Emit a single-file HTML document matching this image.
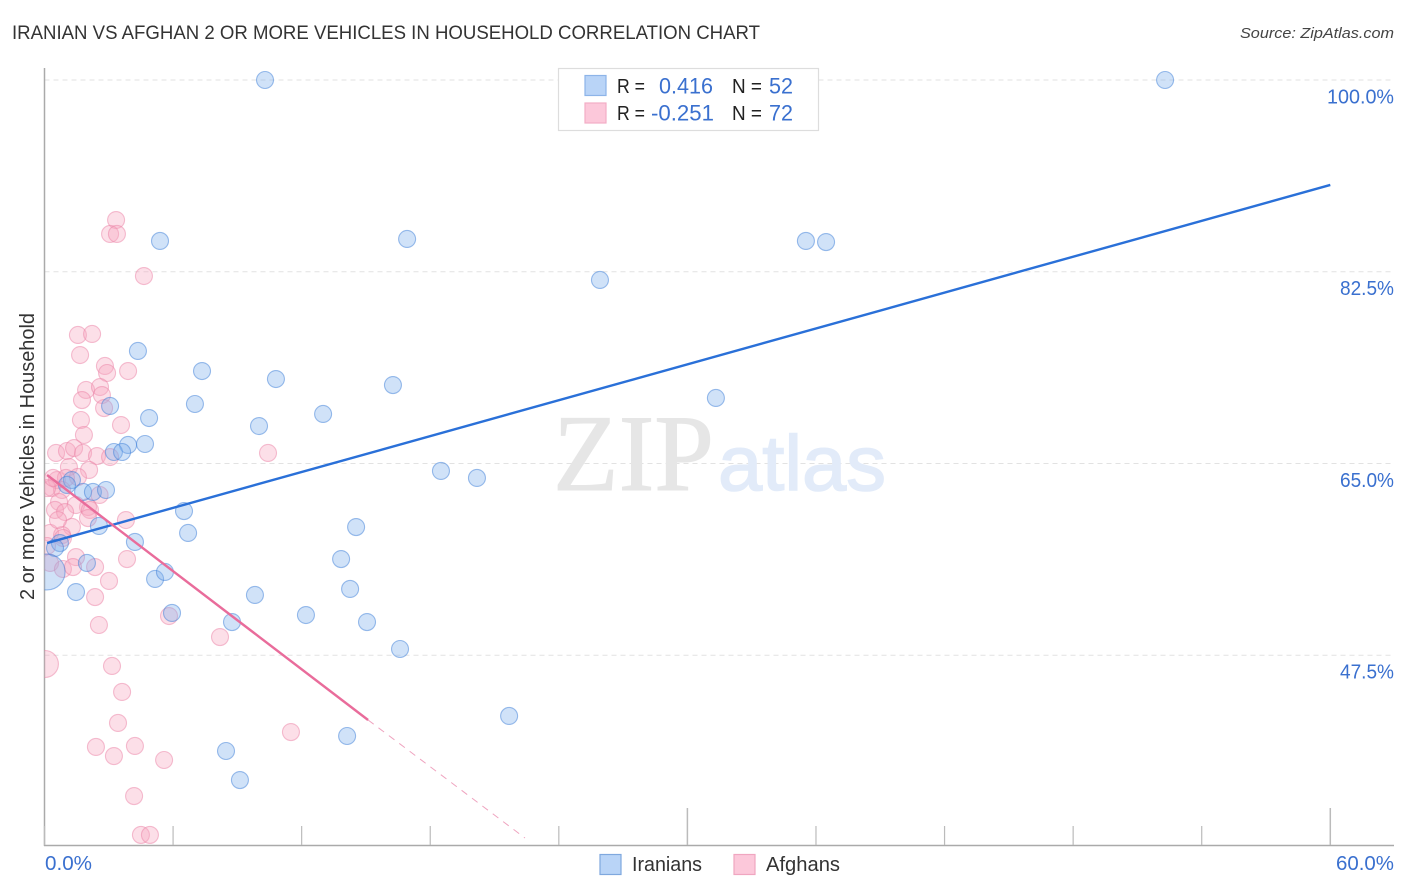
<!DOCTYPE html>
<html>
<head>
<meta charset="utf-8">
<title>Iranian vs Afghan 2 or more Vehicles in Household Correlation Chart</title>
<style>
html,body{margin:0;padding:0;background:#fff;width:1406px;height:892px;overflow:hidden}
svg{display:block;font-family:"Liberation Sans",sans-serif}
</style>
</head>
<body>
<svg id="chart" width="1406" height="892" viewBox="0 0 1406 892" xmlns="http://www.w3.org/2000/svg">
  <defs><clipPath id="plot-clip"><rect x="44.5" y="60" width="1350" height="785"/></clipPath></defs>
  <rect x="0" y="0" width="1406" height="892" fill="#fff"/>
  <text x="12" y="39" font-size="19" fill="#333" textLength="748" lengthAdjust="spacingAndGlyphs">IRANIAN VS AFGHAN 2 OR MORE VEHICLES IN HOUSEHOLD CORRELATION CHART</text>
  <text x="1394" y="38" font-size="15" font-style="italic" fill="#444" text-anchor="end" textLength="154" lengthAdjust="spacingAndGlyphs">Source: ZipAtlas.com</text>
  <g id="grid"></g>
  <g>
    <text x="553" y="490" font-family="'Liberation Serif',serif" font-size="109" fill="#e6e6e6" stroke="#e6e6e6" stroke-width="1" textLength="161" lengthAdjust="spacingAndGlyphs">ZIP</text>
    <text x="718" y="490" font-family="'Liberation Sans',sans-serif" font-size="78" fill="#e2ebf9" stroke="#e2ebf9" stroke-width="1.5" textLength="168" lengthAdjust="spacingAndGlyphs">atlas</text>
  </g>
  <g id="axes"></g>
  <g id="marks" clip-path="url(#plot-clip)"></g>
  <g id="trends"></g>
  <g id="labels"></g>
  <text transform="translate(34,456.5) rotate(-90)" font-size="20" fill="#333" text-anchor="middle" textLength="287" lengthAdjust="spacingAndGlyphs">2 or more Vehicles in Household</text>

  <g>
    <rect x="558.5" y="68.5" width="260" height="62" fill="#fff" stroke="#ddd" stroke-width="1.2"/>
    <rect x="585" y="75.5" width="21" height="20" fill="#b9d4f7" stroke="#8db4e8" stroke-width="1.2"/>
    <rect x="585" y="103" width="21" height="20" fill="#fcc8da" stroke="#f3adc6" stroke-width="1.2"/>
    <g font-size="20" fill="#222">
      <text x="617" y="93" textLength="28" lengthAdjust="spacingAndGlyphs">R =</text>
      <text x="617" y="120" textLength="28" lengthAdjust="spacingAndGlyphs">R =</text>
      <text x="732" y="93" textLength="30" lengthAdjust="spacingAndGlyphs">N =</text>
      <text x="732" y="120" textLength="30" lengthAdjust="spacingAndGlyphs">N =</text>
    </g>
    <g font-size="22" fill="#3a70cf">
      <text x="659" y="93.5" textLength="54" lengthAdjust="spacingAndGlyphs">0.416</text>
      <text x="651" y="120.5" textLength="63" lengthAdjust="spacingAndGlyphs">-0.251</text>
      <text x="769" y="93.5" textLength="24" lengthAdjust="spacingAndGlyphs">52</text>
      <text x="769" y="120.5" textLength="24" lengthAdjust="spacingAndGlyphs">72</text>
    </g>
  </g>

  <g>
    <g>
      <rect x="600" y="854.5" width="21" height="20" fill="#b9d4f7" stroke="#7fa8de" stroke-width="1.2"/>
      <text x="632" y="871" font-size="20" fill="#333" textLength="70" lengthAdjust="spacingAndGlyphs">Iranians</text>
    </g>
    <g>
      <rect x="734" y="854.5" width="21" height="20" fill="#fcc8da" stroke="#f0a6c0" stroke-width="1.2"/>
      <text x="766" y="871" font-size="20" fill="#333" textLength="74" lengthAdjust="spacingAndGlyphs">Afghans</text>
    </g>
  </g>
</svg>
<script>
// ---- chart data (x = Iranian/Afghan share %, y = 2+ vehicles %) ----
const iranianX = [10.29,52.29,5.39,16.92,35.53,36.47,25.92,4.36,7.35,10.80,16.26,31.33,7.02,3.06,4.88,13.00,10.01,3.90,4.69,3.24,3.62,18.50,20.18,1.28,1.05,1.80,2.26,2.87,6.51,2.54,6.70,14.54,4.22,0.72,0.49,13.84,1.98,5.16,5.62,14.26,1.47,9.82,5.95,12.20,8.75,15.05,16.59,21.68,14.12,8.47,9.12,0.12];
const iranianY = [100,100,85.31,85.49,85.31,85.21,81.75,75.27,73.44,72.71,72.16,70.98,70.43,70.25,69.15,69.52,68.42,66.69,66.78,66.05,66.05,64.32,63.68,63.49,63.04,62.40,62.40,62.58,60.66,59.30,58.66,59.20,57.84,57.74,57.29,56.28,55.92,54.46,55.10,53.55,53.27,53.00,51.36,51.17,50.53,50.53,48.07,41.96,40.13,38.76,36.11,55.10];
const iranianLargeIndex = [51];
const afghanX = [3.34,3.06,3.38,4.64,1.56,2.22,1.66,2.82,2.92,3.90,1.94,2.59,2.68,1.75,2.78,3.57,1.70,1.84,0.54,1.05,1.38,1.80,2.45,3.06,10.43,1.14,2.08,1.56,0.58,0.35,0.82,2.57,2.03,0.68,1.47,0.49,0.96,2.12,2.03,1.28,3.80,0.26,0.82,0.86,0.12,1.47,3.85,0.26,0.86,1.33,2.36,3.01,2.36,2.54,5.81,8.19,0.02,3.15,3.62,3.43,2.40,4.22,3.24,5.58,4.18,4.50,4.92,11.50,1.00,0.63,0.12,0.40];
const afghanY = [87.22,85.95,85.95,82.11,76.73,76.82,74.90,73.90,73.26,73.44,71.71,71.98,71.25,70.79,70.06,68.51,68.97,67.60,65.96,66.14,66.41,65.96,65.68,65.59,65.96,64.68,64.41,63.77,63.49,62.76,62.58,62.13,61.03,61.49,61.21,60.76,60.57,60.76,60.02,59.21,59.84,58.66,58.47,58.20,57.47,56.46,56.28,55.92,55.37,55.55,55.55,54.28,52.81,50.26,51.08,49.16,46.70,46.52,44.15,41.32,39.13,39.22,38.30,37.94,34.65,31.10,31.10,40.49,63.68,59.84,62.76,63.68];
const afghanLargeIndex = [56];
const iranianTrendX = [0.12,60];
const iranianTrendY = [57.74,90.42];
const afghanTrendX = [0.12,15.10];
const afghanTrendY = [63.95,41.59];
const afghanTrendExtX = [15.10,22.42];
const afghanTrendExtY = [41.59,30.82];
const yTicks = [100,82.5,65,47.5];
const yTickLabels = ['100.0%','82.5%','65.0%','47.5%'];
const xTicks = [0,6,12,18,24,30,36,42,48,54,60];
const xMajorTicks = [30,60];
const xTickLabels = ['0.0%','60.0%'];

// ---- axis functions ----
const NS = 'http://www.w3.org/2000/svg';
const sx = v => 44.5 + v * 21.43;
const sy = v => 80 + (100 - v) * 10.957;
function mk(parent, tag, attrs) {
  const el = document.createElementNS(NS, tag);
  for (const k in attrs) el.setAttribute(k, attrs[k]);
  parent.appendChild(el);
  return el;
}
const grid = document.getElementById('grid');
const axes = document.getElementById('axes');
const marks = document.getElementById('marks');
const trends = document.getElementById('trends');
const labels = document.getElementById('labels');

yTicks.forEach((t, i) => {
  const g = mk(grid, 'line', {x1: 44.5, x2: 1394, y1: sy(t), y2: sy(t), stroke: '#e2e2e2', 'stroke-width': 1, 'stroke-dasharray': '5 4'});
  
  
  const l = mk(labels, 'text', {x: 1394, y: sy(t) + 23.5, 'font-size': 20, fill: '#3a70cf', 'text-anchor': 'end', textLength: yTickLabels[i].length > 5 ? 67 : 54, lengthAdjust: 'spacingAndGlyphs'});
  l.textContent = yTickLabels[i];
  
  
});

const yAxis = mk(axes, 'line', {x1: 44.5, x2: 44.5, y1: 68, y2: 846, stroke: '#aaa', 'stroke-width': 1.5});


const xAxis = mk(axes, 'line', {x1: 44, x2: 1394, y1: 845.5, y2: 845.5, stroke: '#aaa', 'stroke-width': 1.5});


xTicks.forEach(t => {
  const major = xMajorTicks.includes(t);
  const tk = mk(axes, 'line', {x1: sx(t), x2: sx(t), y1: major ? 808 : 826, y2: 845, stroke: '#bbb', 'stroke-width': major ? 1.5 : 1.2});
  
  
});
const x0 = mk(labels, 'text', {x: 45, y: 870, 'font-size': 20, fill: '#3a70cf', textLength: 47, lengthAdjust: 'spacingAndGlyphs'});
x0.textContent = xTickLabels[0];


const x1 = mk(labels, 'text', {x: 1394, y: 870, 'font-size': 20, fill: '#3a70cf', 'text-anchor': 'end', textLength: 58, lengthAdjust: 'spacingAndGlyphs'});
x1.textContent = xTickLabels[1];



// ---- points ----
afghanX.forEach((v, i) => {
  const c = mk(marks, 'circle', {cx: sx(v), cy: sy(afghanY[i]), r: afghanLargeIndex.includes(i) ? 13.5 : 8.5, fill: 'rgba(248,165,192,0.36)', stroke: 'rgba(236,130,165,0.5)', 'stroke-width': 1.1});
  
  
});
iranianX.forEach((v, i) => {
  const c = mk(marks, 'circle', {cx: sx(v), cy: sy(iranianY[i]), r: iranianLargeIndex.includes(i) ? 18 : 8.5, fill: 'rgba(125,175,235,0.36)', stroke: 'rgba(60,125,215,0.5)', 'stroke-width': 1.1});
  
  
});

// ---- trend lines ----
const tBlue = mk(trends, 'line', {x1: sx(iranianTrendX[0]), y1: sy(iranianTrendY[0]), x2: sx(iranianTrendX[1]), y2: sy(iranianTrendY[1]), stroke: '#2a70d8', 'stroke-width': 2.4});


const tPink = mk(trends, 'line', {x1: sx(afghanTrendX[0]), y1: sy(afghanTrendY[0]), x2: sx(afghanTrendX[1]), y2: sy(afghanTrendY[1]), stroke: '#e96c9b', 'stroke-width': 2.4});


const tExt = mk(trends, 'line', {x1: sx(afghanTrendExtX[0]), y1: sy(afghanTrendExtY[0]), x2: sx(afghanTrendExtX[1]), y2: sy(afghanTrendExtY[1]), stroke: '#efa3bf', 'stroke-width': 1, 'stroke-dasharray': '7 6'});


</script>
</body>
</html>
